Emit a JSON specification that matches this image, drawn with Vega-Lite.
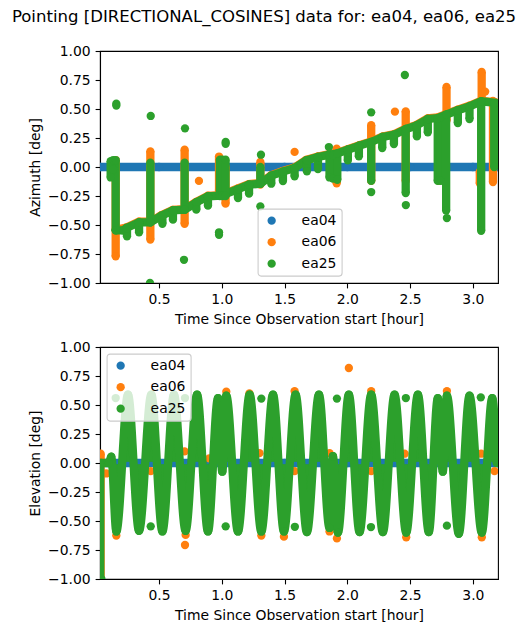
{
"$schema":"https://vega.github.io/schema/vega-lite/v6.json",
"padding":{"left":11,"top":8,"right":0,"bottom":0},
"background":"white",
"spacing":12,
"resolve":{"scale":{"color":"independent"},"legend":{"color":"independent"}},
"title":{"text":"Pointing [DIRECTIONAL_COSINES] data for: ea04, ea06, ea25","font":"DejaVu Sans","fontSize":16.55,"fontWeight":"normal","color":"#000","anchor":"middle","frame":"group","dx":-35,"offset":18},
"config":{
"font":"DejaVu Sans",
"view":{"stroke":"#000","strokeWidth":1.1},
"range":{"category":["#1f77b4","#ff7f0e","#2ca02c"]},
"axis":{"grid":false,"domainColor":"#000","domainWidth":1.1,"tickColor":"#000","tickWidth":1.1,"tickSize":4.9,"labelColor":"#000","labelFontSize":13.9,"labelPadding":4.9,"titleColor":"#000","titleFontSize":13.9,"titleFontWeight":"normal","titlePadding":5.5,"labelFont":"DejaVu Sans","titleFont":"DejaVu Sans","labelOverlap":false,"labelBound":false,"labelFlush":false},
"legend":{"title":null,"labelFontSize":13.9,"labelFont":"DejaVu Sans","labelColor":"#000","symbolType":"circle","symbolSize":69,"symbolStrokeWidth":0,"fillColor":"rgba(255,255,255,0.8)","strokeColor":"#ccc","strokeWidth":1.1,"cornerRadius":3,"padding":5,"rowPadding":6.5,"labelOffset":23,"symbolOffset":2}
},
"datasets":{
"azimuth":[
{"series":"ea04","hour":0.03,"value":0,"segment":"flat"},{"series":"ea04","hour":0.5,"value":0,"segment":"flat"},{"series":"ea04","hour":1.0,"value":0,"segment":"flat"},{"series":"ea04","hour":1.5,"value":0,"segment":"flat"},{"series":"ea04","hour":2.0,"value":0,"segment":"flat"},{"series":"ea04","hour":2.5,"value":0,"segment":"flat"},{"series":"ea04","hour":3.0,"value":0,"segment":"flat"},{"series":"ea04","hour":3.2,"value":0,"segment":"flat"},

{"series":"ea06","hour":0.155,"value":0.06,"segment":"o1"},{"series":"ea06","hour":0.155,"value":-0.77,"segment":"o1"},
{"series":"ea06","hour":0.431,"value":0.135,"segment":"o2"},{"series":"ea06","hour":0.431,"value":-0.626,"segment":"o2"},
{"series":"ea06","hour":0.704,"value":0.149,"segment":"o3"},{"series":"ea06","hour":0.704,"value":-0.49,"segment":"o3"},
{"series":"ea06","hour":0.978,"value":0.09,"segment":"o4"},{"series":"ea06","hour":0.978,"value":-0.2,"segment":"o4"},
{"series":"ea06","hour":1.03,"value":0,"segment":"o4b"},{"series":"ea06","hour":1.03,"value":-0.316,"segment":"o4b"},
{"series":"ea06","hour":1.307,"value":0.043,"segment":"o5"},{"series":"ea06","hour":1.307,"value":-0.152,"segment":"o5"},
{"series":"ea06","hour":1.915,"value":0.158,"segment":"o6"},{"series":"ea06","hour":1.915,"value":-0.14,"segment":"o6"},
{"series":"ea06","hour":2.19,"value":0.36,"segment":"o7"},{"series":"ea06","hour":2.19,"value":-0.12,"segment":"o7"},
{"series":"ea06","hour":2.465,"value":0.48,"segment":"o8"},{"series":"ea06","hour":2.465,"value":-0.12,"segment":"o8"},
{"series":"ea06","hour":2.73,"value":0.42,"segment":"o9"},{"series":"ea06","hour":2.73,"value":-0.12,"segment":"o9"},
{"series":"ea06","hour":2.79,"value":0.69,"segment":"o10"},{"series":"ea06","hour":2.79,"value":0.4,"segment":"o10"},
{"series":"ea06","hour":3.07,"value":0.82,"segment":"o11"},{"series":"ea06","hour":3.07,"value":0.55,"segment":"o11"},
{"series":"ea06","hour":3.055,"value":-0.04,"segment":"o11b"},{"series":"ea06","hour":3.055,"value":-0.14,"segment":"o11b"},
{"series":"ea06","hour":3.16,"value":0.57,"segment":"o12"},{"series":"ea06","hour":3.16,"value":-0.13,"segment":"o12"},
{"series":"ea06","hour":0.818,"value":-0.12},{"series":"ea06","hour":1.58,"value":0.13},{"series":"ea06","hour":2.379,"value":0.477},{"series":"ea06","hour":3.098,"value":0.65},

{"series":"ea06","hour":0.155,"value":-0.541,"segment":"stair"},{"series":"ea06","hour":0.24,"value":-0.521,"segment":"stair"},{"series":"ea06","hour":0.341,"value":-0.472,"segment":"stair"},{"series":"ea06","hour":0.431,"value":-0.472,"segment":"stair"},{"series":"ea06","hour":0.519,"value":-0.415,"segment":"stair"},{"series":"ea06","hour":0.611,"value":-0.369,"segment":"stair"},{"series":"ea06","hour":0.704,"value":-0.363,"segment":"stair"},{"series":"ea06","hour":0.797,"value":-0.3,"segment":"stair"},{"series":"ea06","hour":0.89,"value":-0.248,"segment":"stair"},{"series":"ea06","hour":0.996,"value":-0.242,"segment":"stair"},{"series":"ea06","hour":1.129,"value":-0.185,"segment":"stair"},{"series":"ea06","hour":1.217,"value":-0.147,"segment":"stair"},{"series":"ea06","hour":1.307,"value":-0.139,"segment":"stair"},{"series":"ea06","hour":1.394,"value":-0.07,"segment":"stair"},{"series":"ea06","hour":1.487,"value":-0.035,"segment":"stair"},{"series":"ea06","hour":1.58,"value":-0.004,"segment":"stair"},{"series":"ea06","hour":1.673,"value":0.062,"segment":"stair"},{"series":"ea06","hour":1.766,"value":0.091,"segment":"stair"},{"series":"ea06","hour":1.858,"value":0.111,"segment":"stair"},{"series":"ea06","hour":1.912,"value":0.12,"segment":"stair"},{"series":"ea06","hour":2.004,"value":0.154,"segment":"stair"},{"series":"ea06","hour":2.097,"value":0.189,"segment":"stair"},{"series":"ea06","hour":2.19,"value":0.221,"segment":"stair"},{"series":"ea06","hour":2.283,"value":0.264,"segment":"stair"},{"series":"ea06","hour":2.376,"value":0.284,"segment":"stair"},{"series":"ea06","hour":2.469,"value":0.333,"segment":"stair"},{"series":"ea06","hour":2.548,"value":0.361,"segment":"stair"},{"series":"ea06","hour":2.641,"value":0.419,"segment":"stair"},{"series":"ea06","hour":2.721,"value":0.427,"segment":"stair"},{"series":"ea06","hour":2.787,"value":0.456,"segment":"stair"},{"series":"ea06","hour":2.88,"value":0.494,"segment":"stair"},{"series":"ea06","hour":2.973,"value":0.528,"segment":"stair"},{"series":"ea06","hour":3.066,"value":0.571,"segment":"stair"},{"series":"ea06","hour":3.185,"value":0.557,"segment":"stair"},

{"series":"ea25","hour":0.155,"value":-0.546,"segment":"stair"},{"series":"ea25","hour":0.213,"value":-0.546,"segment":"stair"},{"series":"ea25","hour":0.24,"value":-0.526,"segment":"stair"},{"series":"ea25","hour":0.341,"value":-0.477,"segment":"stair"},{"series":"ea25","hour":0.431,"value":-0.477,"segment":"stair"},{"series":"ea25","hour":0.519,"value":-0.42,"segment":"stair"},{"series":"ea25","hour":0.611,"value":-0.374,"segment":"stair"},{"series":"ea25","hour":0.704,"value":-0.368,"segment":"stair"},{"series":"ea25","hour":0.797,"value":-0.305,"segment":"stair"},{"series":"ea25","hour":0.89,"value":-0.253,"segment":"stair"},{"series":"ea25","hour":0.996,"value":-0.247,"segment":"stair"},{"series":"ea25","hour":1.129,"value":-0.19,"segment":"stair"},{"series":"ea25","hour":1.217,"value":-0.152,"segment":"stair"},{"series":"ea25","hour":1.307,"value":-0.144,"segment":"stair"},{"series":"ea25","hour":1.394,"value":-0.075,"segment":"stair"},{"series":"ea25","hour":1.487,"value":-0.04,"segment":"stair"},{"series":"ea25","hour":1.58,"value":-0.009,"segment":"stair"},{"series":"ea25","hour":1.673,"value":0.057,"segment":"stair"},{"series":"ea25","hour":1.766,"value":0.086,"segment":"stair"},{"series":"ea25","hour":1.858,"value":0.106,"segment":"stair"},{"series":"ea25","hour":1.912,"value":0.115,"segment":"stair"},{"series":"ea25","hour":2.004,"value":0.149,"segment":"stair"},{"series":"ea25","hour":2.097,"value":0.184,"segment":"stair"},{"series":"ea25","hour":2.19,"value":0.216,"segment":"stair"},{"series":"ea25","hour":2.283,"value":0.259,"segment":"stair"},{"series":"ea25","hour":2.376,"value":0.279,"segment":"stair"},{"series":"ea25","hour":2.469,"value":0.328,"segment":"stair"},{"series":"ea25","hour":2.548,"value":0.356,"segment":"stair"},{"series":"ea25","hour":2.641,"value":0.414,"segment":"stair"},{"series":"ea25","hour":2.721,"value":0.422,"segment":"stair"},{"series":"ea25","hour":2.787,"value":0.451,"segment":"stair"},{"series":"ea25","hour":2.88,"value":0.489,"segment":"stair"},{"series":"ea25","hour":2.973,"value":0.523,"segment":"stair"},{"series":"ea25","hour":3.066,"value":0.566,"segment":"stair"},{"series":"ea25","hour":3.185,"value":0.552,"segment":"stair"},

{"series":"ea25","hour":0.245,"value":-0.526,"segment":"t01"},{"series":"ea25","hour":0.245,"value":-0.598,"segment":"t01"},
{"series":"ea25","hour":0.341,"value":-0.477,"segment":"t02"},{"series":"ea25","hour":0.341,"value":-0.563,"segment":"t02"},
{"series":"ea25","hour":0.527,"value":-0.42,"segment":"t03"},{"series":"ea25","hour":0.527,"value":-0.489,"segment":"t03"},
{"series":"ea25","hour":0.611,"value":-0.374,"segment":"t04"},{"series":"ea25","hour":0.611,"value":-0.454,"segment":"t04"},
{"series":"ea25","hour":0.797,"value":-0.305,"segment":"t05"},{"series":"ea25","hour":0.797,"value":-0.368,"segment":"t05"},
{"series":"ea25","hour":0.89,"value":-0.253,"segment":"t06"},{"series":"ea25","hour":0.89,"value":-0.333,"segment":"t06"},
{"series":"ea25","hour":1.129,"value":-0.19,"segment":"t07"},{"series":"ea25","hour":1.129,"value":-0.267,"segment":"t07"},
{"series":"ea25","hour":1.217,"value":-0.152,"segment":"t08"},{"series":"ea25","hour":1.217,"value":-0.23,"segment":"t08"},
{"series":"ea25","hour":1.394,"value":-0.075,"segment":"t09"},{"series":"ea25","hour":1.394,"value":-0.144,"segment":"t09"},
{"series":"ea25","hour":1.487,"value":-0.04,"segment":"t10"},{"series":"ea25","hour":1.487,"value":-0.121,"segment":"t10"},
{"series":"ea25","hour":1.58,"value":-0.009,"segment":"t11"},{"series":"ea25","hour":1.58,"value":-0.08,"segment":"t11"},
{"series":"ea25","hour":1.678,"value":0.057,"segment":"t12"},{"series":"ea25","hour":1.678,"value":-0.037,"segment":"t12"},
{"series":"ea25","hour":1.766,"value":0.086,"segment":"t13"},{"series":"ea25","hour":1.766,"value":-0.017,"segment":"t13"},
{"series":"ea25","hour":2.004,"value":0.149,"segment":"t14"},{"series":"ea25","hour":2.004,"value":0.057,"segment":"t14"},
{"series":"ea25","hour":2.092,"value":0.184,"segment":"t15"},{"series":"ea25","hour":2.092,"value":0.092,"segment":"t15"},
{"series":"ea25","hour":2.278,"value":0.259,"segment":"t16"},{"series":"ea25","hour":2.278,"value":0.164,"segment":"t16"},
{"series":"ea25","hour":2.371,"value":0.279,"segment":"t17"},{"series":"ea25","hour":2.371,"value":0.198,"segment":"t17"},
{"series":"ea25","hour":2.554,"value":0.356,"segment":"t18"},{"series":"ea25","hour":2.554,"value":0.264,"segment":"t18"},
{"series":"ea25","hour":2.641,"value":0.414,"segment":"t19"},{"series":"ea25","hour":2.641,"value":0.299,"segment":"t19"},
{"series":"ea25","hour":2.88,"value":0.489,"segment":"t20"},{"series":"ea25","hour":2.88,"value":0.379,"segment":"t20"},
{"series":"ea25","hour":2.973,"value":0.523,"segment":"t21"},{"series":"ea25","hour":2.973,"value":0.414,"segment":"t21"},

{"series":"ea25","hour":0.115,"value":0.05,"segment":"g1a"},{"series":"ea25","hour":0.115,"value":-0.09,"segment":"g1a"},
{"series":"ea25","hour":0.135,"value":0.06,"segment":"g1b"},{"series":"ea25","hour":0.135,"value":-0.02,"segment":"g1b"},
{"series":"ea25","hour":0.155,"value":0.06,"segment":"g1c"},{"series":"ea25","hour":0.155,"value":-0.546,"segment":"g1c"},
{"series":"ea25","hour":0.431,"value":0.037,"segment":"g2"},{"series":"ea25","hour":0.431,"value":-0.477,"segment":"g2"},
{"series":"ea25","hour":0.704,"value":0.037,"segment":"g3"},{"series":"ea25","hour":0.704,"value":-0.37,"segment":"g3"},
{"series":"ea25","hour":0.985,"value":0.063,"segment":"g4a"},{"series":"ea25","hour":0.985,"value":-0.25,"segment":"g4a"},
{"series":"ea25","hour":1.005,"value":0.063,"segment":"g4b"},{"series":"ea25","hour":1.005,"value":-0.25,"segment":"g4b"},
{"series":"ea25","hour":1.03,"value":0.063,"segment":"g4c"},{"series":"ea25","hour":1.03,"value":-0.25,"segment":"g4c"},
{"series":"ea25","hour":1.307,"value":0,"segment":"g5"},{"series":"ea25","hour":1.307,"value":-0.144,"segment":"g5"},
{"series":"ea25","hour":1.858,"value":0.106,"segment":"g6a"},{"series":"ea25","hour":1.858,"value":-0.09,"segment":"g6a"},
{"series":"ea25","hour":1.885,"value":0.1,"segment":"g6b"},{"series":"ea25","hour":1.885,"value":-0.1,"segment":"g6b"},
{"series":"ea25","hour":1.92,"value":0.115,"segment":"g6c"},{"series":"ea25","hour":1.92,"value":-0.11,"segment":"g6c"},
{"series":"ea25","hour":2.19,"value":0.216,"segment":"g7"},{"series":"ea25","hour":2.19,"value":-0.12,"segment":"g7"},
{"series":"ea25","hour":2.465,"value":0.328,"segment":"g8"},{"series":"ea25","hour":2.465,"value":-0.224,"segment":"g8"},
{"series":"ea25","hour":2.72,"value":0.42,"segment":"g9a"},{"series":"ea25","hour":2.72,"value":-0.12,"segment":"g9a"},
{"series":"ea25","hour":2.745,"value":0.43,"segment":"g9b"},{"series":"ea25","hour":2.745,"value":-0.12,"segment":"g9b"},
{"series":"ea25","hour":2.787,"value":0.451,"segment":"g10"},{"series":"ea25","hour":2.787,"value":-0.376,"segment":"g10"},
{"series":"ea25","hour":3.066,"value":0.566,"segment":"g11"},{"series":"ea25","hour":3.066,"value":-0.55,"segment":"g11"},
{"series":"ea25","hour":3.17,"value":0.55,"segment":"g12"},{"series":"ea25","hour":3.17,"value":0,"segment":"g12"},

{"series":"ea25","hour":0.16,"value":0.546},{"series":"ea25","hour":0.16,"value":0.53},{"series":"ea25","hour":0.434,"value":0.44},{"series":"ea25","hour":0.707,"value":0.333},{"series":"ea25","hour":1.031,"value":0.216},{"series":"ea25","hour":1.031,"value":0.2},{"series":"ea25","hour":1.312,"value":0.106},{"series":"ea25","hour":1.307,"value":-0.339},{"series":"ea25","hour":0.978,"value":-0.563},{"series":"ea25","hour":0.978,"value":-0.585},{"series":"ea25","hour":0.699,"value":-0.8},{"series":"ea25","hour":0.428,"value":-1.0},{"series":"ea25","hour":1.853,"value":0.172},{"series":"ea25","hour":2.19,"value":0.471},{"series":"ea25","hour":2.19,"value":-0.216},{"series":"ea25","hour":2.458,"value":0.793},{"series":"ea25","hour":2.466,"value":-0.328},{"series":"ea25","hour":2.793,"value":-0.44}
],
"elevation":[
{"series":"ea04","hour":0.03,"value":0,"segment":"flat"},{"series":"ea04","hour":0.5,"value":0,"segment":"flat"},{"series":"ea04","hour":1.0,"value":0,"segment":"flat"},{"series":"ea04","hour":1.5,"value":0,"segment":"flat"},{"series":"ea04","hour":2.0,"value":0,"segment":"flat"},{"series":"ea04","hour":2.5,"value":0,"segment":"flat"},{"series":"ea04","hour":3.0,"value":0,"segment":"flat"},{"series":"ea04","hour":3.2,"value":0,"segment":"flat"},

{"series":"ea06","hour":0.035,"value":0.08,"segment":"v"},{"series":"ea06","hour":0.035,"value":-1.0,"segment":"v"},
{"series":"ea06","hour":0.08,"value":-0.09},{"series":"ea06","hour":0.434,"value":-0.07},{"series":"ea06","hour":0.704,"value":0.1},{"series":"ea06","hour":0.9,"value":0.04},{"series":"ea06","hour":1.3,"value":0.085},{"series":"ea06","hour":1.58,"value":-0.07},{"series":"ea06","hour":1.858,"value":0.085},{"series":"ea06","hour":2.19,"value":-0.07},{"series":"ea06","hour":2.456,"value":0.08},{"series":"ea06","hour":3.066,"value":0.08},{"series":"ea06","hour":3.172,"value":-0.07},
{"series":"ea06","hour":0.707,"value":-0.707},{"series":"ea06","hour":2.012,"value":0.819},{"series":"ea06","hour":1.58,"value":0.62},{"series":"ea06","hour":2.19,"value":0.62},{"series":"ea06","hour":2.793,"value":0.62},{"series":"ea06","hour":1.036,"value":0.615},{"series":"ea06","hour":1.22,"value":0.6},{"series":"ea06","hour":0.16,"value":-0.625},{"series":"ea06","hour":1.495,"value":-0.635},{"series":"ea06","hour":1.315,"value":-0.625},{"series":"ea06","hour":1.917,"value":-0.65},{"series":"ea06","hour":2.469,"value":-0.64},{"series":"ea06","hour":3.071,"value":-0.64},{"series":"ea06","hour":0.712,"value":-0.62},{"series":"ea06","hour":1.858,"value":-0.59},

{"series":"ea25","hour":0.041,"value":0,"segment":"v"},{"series":"ea25","hour":0.041,"value":-1.0,"segment":"v"},
{"series":"ea25","hour":0.03,"value":0,"segment":"wave"},{"series":"ea25","hour":0.1,"value":0,"segment":"wave"},{"series":"ea25","hour":0.12,"value":0.055,"segment":"wave"},{"series":"ea25","hour":0.16,"value":-0.59,"segment":"wave"},{"series":"ea25","hour":0.253,"value":0.59,"segment":"wave"},{"series":"ea25","hour":0.341,"value":-0.585,"segment":"wave"},{"series":"ea25","hour":0.439,"value":0.59,"segment":"wave"},{"series":"ea25","hour":0.527,"value":-0.59,"segment":"wave"},{"series":"ea25","hour":0.619,"value":0.59,"segment":"wave"},{"series":"ea25","hour":0.712,"value":-0.585,"segment":"wave"},{"series":"ea25","hour":0.803,"value":0.59,"segment":"wave"},{"series":"ea25","hour":0.89,"value":-0.59,"segment":"wave"},{"series":"ea25","hour":0.97,"value":0.56,"segment":"wave"},{"series":"ea25","hour":1.004,"value":-0.075,"segment":"wave"},{"series":"ea25","hour":1.036,"value":0.58,"segment":"wave"},{"series":"ea25","hour":1.129,"value":-0.59,"segment":"wave"},{"series":"ea25","hour":1.222,"value":0.59,"segment":"wave"},{"series":"ea25","hour":1.315,"value":-0.59,"segment":"wave"},{"series":"ea25","hour":1.408,"value":0.59,"segment":"wave"},{"series":"ea25","hour":1.495,"value":-0.59,"segment":"wave"},{"series":"ea25","hour":1.588,"value":0.59,"segment":"wave"},{"series":"ea25","hour":1.678,"value":-0.595,"segment":"wave"},{"series":"ea25","hour":1.774,"value":0.59,"segment":"wave"},{"series":"ea25","hour":1.858,"value":-0.56,"segment":"wave"},{"series":"ea25","hour":1.885,"value":0.06,"segment":"wave"},{"series":"ea25","hour":1.925,"value":-0.6,"segment":"wave"},{"series":"ea25","hour":2.012,"value":0.59,"segment":"wave"},{"series":"ea25","hour":2.097,"value":-0.595,"segment":"wave"},{"series":"ea25","hour":2.19,"value":0.59,"segment":"wave"},{"series":"ea25","hour":2.283,"value":-0.595,"segment":"wave"},{"series":"ea25","hour":2.376,"value":0.59,"segment":"wave"},{"series":"ea25","hour":2.469,"value":-0.6,"segment":"wave"},{"series":"ea25","hour":2.562,"value":0.59,"segment":"wave"},{"series":"ea25","hour":2.649,"value":-0.595,"segment":"wave"},{"series":"ea25","hour":2.721,"value":0.56,"segment":"wave"},{"series":"ea25","hour":2.76,"value":-0.075,"segment":"wave"},{"series":"ea25","hour":2.793,"value":0.58,"segment":"wave"},{"series":"ea25","hour":2.888,"value":-0.61,"segment":"wave"},{"series":"ea25","hour":2.973,"value":0.58,"segment":"wave"},{"series":"ea25","hour":3.071,"value":-0.6,"segment":"wave"},{"series":"ea25","hour":3.154,"value":0.56,"segment":"wave"},{"series":"ea25","hour":3.19,"value":0,"segment":"wave"},

{"series":"ea25","hour":0.16,"value":-0.59,"segment":"spoke01"},{"series":"ea25","hour":0.16,"value":-0.01,"segment":"spoke01"},
{"series":"ea25","hour":0.253,"value":0.59,"segment":"spoke02"},{"series":"ea25","hour":0.253,"value":0.01,"segment":"spoke02"},
{"series":"ea25","hour":0.341,"value":-0.585,"segment":"spoke03"},{"series":"ea25","hour":0.341,"value":-0.01,"segment":"spoke03"},
{"series":"ea25","hour":0.439,"value":0.59,"segment":"spoke04"},{"series":"ea25","hour":0.439,"value":0.01,"segment":"spoke04"},
{"series":"ea25","hour":0.527,"value":-0.59,"segment":"spoke05"},{"series":"ea25","hour":0.527,"value":-0.01,"segment":"spoke05"},
{"series":"ea25","hour":0.619,"value":0.59,"segment":"spoke06"},{"series":"ea25","hour":0.619,"value":0.01,"segment":"spoke06"},
{"series":"ea25","hour":0.712,"value":-0.585,"segment":"spoke07"},{"series":"ea25","hour":0.712,"value":-0.01,"segment":"spoke07"},
{"series":"ea25","hour":0.803,"value":0.59,"segment":"spoke08"},{"series":"ea25","hour":0.803,"value":0.01,"segment":"spoke08"},
{"series":"ea25","hour":0.89,"value":-0.59,"segment":"spoke09"},{"series":"ea25","hour":0.89,"value":-0.01,"segment":"spoke09"},
{"series":"ea25","hour":1.129,"value":-0.59,"segment":"spoke10"},{"series":"ea25","hour":1.129,"value":-0.01,"segment":"spoke10"},
{"series":"ea25","hour":1.222,"value":0.59,"segment":"spoke11"},{"series":"ea25","hour":1.222,"value":0.01,"segment":"spoke11"},
{"series":"ea25","hour":1.315,"value":-0.59,"segment":"spoke12"},{"series":"ea25","hour":1.315,"value":-0.01,"segment":"spoke12"},
{"series":"ea25","hour":1.408,"value":0.59,"segment":"spoke13"},{"series":"ea25","hour":1.408,"value":0.01,"segment":"spoke13"},
{"series":"ea25","hour":1.495,"value":-0.59,"segment":"spoke14"},{"series":"ea25","hour":1.495,"value":-0.01,"segment":"spoke14"},
{"series":"ea25","hour":1.588,"value":0.59,"segment":"spoke15"},{"series":"ea25","hour":1.588,"value":0.01,"segment":"spoke15"},
{"series":"ea25","hour":1.678,"value":-0.595,"segment":"spoke16"},{"series":"ea25","hour":1.678,"value":-0.01,"segment":"spoke16"},
{"series":"ea25","hour":1.774,"value":0.59,"segment":"spoke17"},{"series":"ea25","hour":1.774,"value":0.01,"segment":"spoke17"},
{"series":"ea25","hour":2.012,"value":0.59,"segment":"spoke18"},{"series":"ea25","hour":2.012,"value":0.01,"segment":"spoke18"},
{"series":"ea25","hour":2.097,"value":-0.595,"segment":"spoke19"},{"series":"ea25","hour":2.097,"value":-0.01,"segment":"spoke19"},
{"series":"ea25","hour":2.19,"value":0.59,"segment":"spoke20"},{"series":"ea25","hour":2.19,"value":0.01,"segment":"spoke20"},
{"series":"ea25","hour":2.283,"value":-0.595,"segment":"spoke21"},{"series":"ea25","hour":2.283,"value":-0.01,"segment":"spoke21"},
{"series":"ea25","hour":2.376,"value":0.59,"segment":"spoke22"},{"series":"ea25","hour":2.376,"value":0.01,"segment":"spoke22"},
{"series":"ea25","hour":2.469,"value":-0.6,"segment":"spoke23"},{"series":"ea25","hour":2.469,"value":-0.01,"segment":"spoke23"},
{"series":"ea25","hour":2.562,"value":0.59,"segment":"spoke24"},{"series":"ea25","hour":2.562,"value":0.01,"segment":"spoke24"},
{"series":"ea25","hour":2.649,"value":-0.595,"segment":"spoke25"},{"series":"ea25","hour":2.649,"value":-0.01,"segment":"spoke25"},
{"series":"ea25","hour":2.888,"value":-0.61,"segment":"spoke26"},{"series":"ea25","hour":2.888,"value":-0.01,"segment":"spoke26"},
{"series":"ea25","hour":2.973,"value":0.58,"segment":"spoke27"},{"series":"ea25","hour":2.973,"value":0.01,"segment":"spoke27"},
{"series":"ea25","hour":3.071,"value":-0.6,"segment":"spoke28"},{"series":"ea25","hour":3.071,"value":-0.01,"segment":"spoke28"},
{"series":"ea25","hour":3.154,"value":0.56,"segment":"spoke29"},{"series":"ea25","hour":3.154,"value":0.01,"segment":"spoke29"},
{"series":"ea25","hour":0.97,"value":0.56,"segment":"spoke30"},{"series":"ea25","hour":0.97,"value":0.01,"segment":"spoke30"},
{"series":"ea25","hour":1.036,"value":0.58,"segment":"spoke31"},{"series":"ea25","hour":1.036,"value":0.01,"segment":"spoke31"},
{"series":"ea25","hour":1.858,"value":-0.56,"segment":"spoke32"},{"series":"ea25","hour":1.858,"value":-0.01,"segment":"spoke32"},
{"series":"ea25","hour":1.925,"value":-0.6,"segment":"spoke33"},{"series":"ea25","hour":1.925,"value":-0.01,"segment":"spoke33"},
{"series":"ea25","hour":2.721,"value":0.56,"segment":"spoke34"},{"series":"ea25","hour":2.721,"value":0.01,"segment":"spoke34"},
{"series":"ea25","hour":2.793,"value":0.58,"segment":"spoke35"},{"series":"ea25","hour":2.793,"value":0.01,"segment":"spoke35"},

{"series":"ea25","hour":0.155,"value":0.56},{"series":"ea25","hour":0.434,"value":-0.546},{"series":"ea25","hour":0.707,"value":0.56},{"series":"ea25","hour":1.031,"value":-0.546},{"series":"ea25","hour":1.315,"value":0.555},{"series":"ea25","hour":1.582,"value":-0.55},{"series":"ea25","hour":1.917,"value":0.555},{"series":"ea25","hour":2.188,"value":-0.552},{"series":"ea25","hour":2.466,"value":0.56},{"series":"ea25","hour":2.793,"value":-0.54},{"series":"ea25","hour":3.063,"value":0.566}
]
},
"vconcat":[
{"width":398,"height":232,"data":{"name":"azimuth"},
"encoding":{
"x":{"field":"hour","type":"quantitative","title":"Time Since Observation start [hour]","scale":{"domain":[0.03,3.2],"nice":false,"zero":false},"axis":{"values":[0.5,1,1.5,2,2.5,3],"format":".1f"}},
"y":{"field":"value","type":"quantitative","title":"Azimuth [deg]","scale":{"domain":[-1,1],"nice":false},"axis":{"values":[-1,-0.75,-0.5,-0.25,0,0.25,0.5,0.75,1],"format":".2f"}}
},
"layer":[
{"transform":[{"filter":"datum.series==='ea04' && datum.segment"}],"mark":{"type":"line","color":"#1f77b4","strokeWidth":8.3,"clip":true},"encoding":{"detail":{"field":"segment"}}},
{"transform":[{"filter":"datum.series==='ea04'"}],"mark":{"type":"point","filled":true,"shape":"circle","size":69,"opacity":1,"clip":true},"encoding":{"color":{"field":"series","scale":{"domain":["ea04","ea06","ea25"]},"legend":{"orient":"none","legendX":157.7,"legendY":157.7}}}},
{"transform":[{"filter":"datum.series==='ea06' && datum.segment"}],"mark":{"type":"line","color":"#ff7f0e","strokeWidth":8.3,"clip":true},"encoding":{"detail":{"field":"segment"}}},
{"transform":[{"filter":"datum.series==='ea06'"}],"mark":{"type":"point","filled":true,"shape":"circle","size":69,"opacity":1,"clip":true},"encoding":{"color":{"field":"series","scale":{"domain":["ea04","ea06","ea25"]},"legend":{"orient":"none","legendX":157.7,"legendY":157.7}}}},
{"transform":[{"filter":"datum.series==='ea25' && datum.segment"}],"mark":{"type":"line","color":"#2ca02c","strokeWidth":8.3,"clip":true},"encoding":{"detail":{"field":"segment"}}},
{"transform":[{"filter":"datum.series==='ea25'"}],"mark":{"type":"point","filled":true,"shape":"circle","size":69,"opacity":1,"clip":true},"encoding":{"color":{"field":"series","scale":{"domain":["ea04","ea06","ea25"]},"legend":{"orient":"none","legendX":157.7,"legendY":157.7}}}}
]},
{"width":398,"height":232,"data":{"name":"elevation"},
"encoding":{
"x":{"field":"hour","type":"quantitative","title":"Time Since Observation start [hour]","scale":{"domain":[0.03,3.2],"nice":false,"zero":false},"axis":{"values":[0.5,1,1.5,2,2.5,3],"format":".1f"}},
"y":{"field":"value","type":"quantitative","title":"Elevation [deg]","scale":{"domain":[-1,1],"nice":false},"axis":{"values":[-1,-0.75,-0.5,-0.25,0,0.25,0.5,0.75,1],"format":".2f"}}
},
"layer":[
{"transform":[{"filter":"datum.series==='ea04' && datum.segment"}],"mark":{"type":"line","color":"#1f77b4","strokeWidth":8.3,"clip":true},"encoding":{"detail":{"field":"segment"}}},
{"transform":[{"filter":"datum.series==='ea04'"}],"mark":{"type":"point","filled":true,"shape":"circle","size":69,"opacity":1,"clip":true},"encoding":{"color":{"field":"series","scale":{"domain":["ea04","ea06","ea25"]},"legend":{"orient":"none","legendX":6.7,"legendY":6.7}}}},
{"transform":[{"filter":"datum.series==='ea06' && datum.segment==='v'"}],"mark":{"type":"line","color":"#ff7f0e","strokeWidth":8.3,"clip":true}},
{"transform":[{"filter":"datum.series==='ea06'"}],"mark":{"type":"point","filled":true,"shape":"circle","size":69,"opacity":1,"clip":true},"encoding":{"color":{"field":"series","scale":{"domain":["ea04","ea06","ea25"]},"legend":{"orient":"none","legendX":6.7,"legendY":6.7}}}},
{"transform":[{"filter":"datum.series==='ea25' && datum.segment==='v'"}],"mark":{"type":"line","color":"#2ca02c","strokeWidth":6,"clip":true}},
{"transform":[{"filter":"datum.series==='ea25' && test(/spoke/, datum.segment || '')"}],"mark":{"type":"line","color":"#2ca02c","strokeWidth":8.3,"clip":true},"encoding":{"detail":{"field":"segment"}}},
{"transform":[{"filter":"datum.series==='ea25' && datum.segment==='wave'"}],"mark":{"type":"line","color":"#2ca02c","strokeWidth":8.3,"interpolate":"monotone","clip":true}},
{"transform":[{"filter":"datum.series==='ea25' && !test(/spoke/, datum.segment || '')"}],"mark":{"type":"point","filled":true,"shape":"circle","size":69,"opacity":1,"clip":true},"encoding":{"color":{"field":"series","scale":{"domain":["ea04","ea06","ea25"]},"legend":{"orient":"none","legendX":6.7,"legendY":6.7}}}}
]}
]
}
